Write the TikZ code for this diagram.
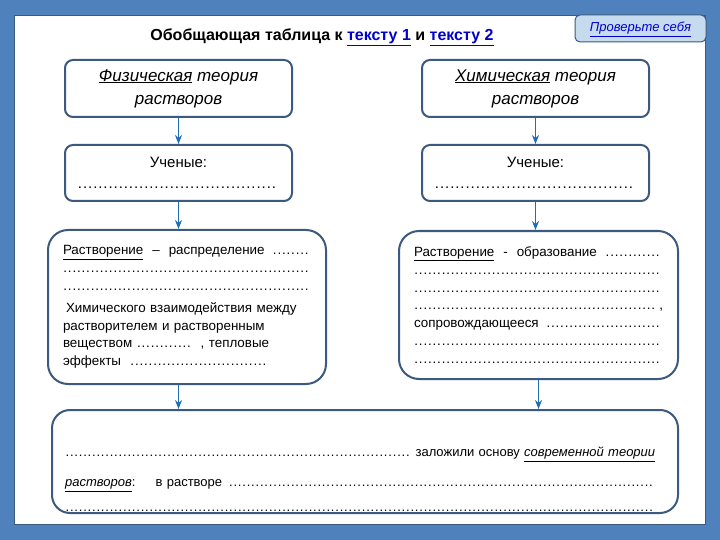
\documentclass[tikz,border=0pt]{standalone}
\usepackage{fontspec}
\setmainfont{Liberation Sans}
\usetikzlibrary{arrows.meta}

\definecolor{slidebg}{RGB}{79,129,189}
\definecolor{boxline}{RGB}{60,90,125}
\definecolor{arrowblue}{RGB}{31,110,180}
\definecolor{linkblue}{RGB}{0,0,204}
\definecolor{btnfill}{RGB}{198,220,238}

\newcommand\dfill{\leavevmode\leaders\hbox to .34em{\hss.\hss}\hfill\kern0pt}
\newcommand\dline{\mbox{}\dfill}
\newcommand\dts[1]{\hbox to #1{\dfill}}
\newcommand\ulit[1]{\underline{\textit{#1}}}

\begin{document}
\begin{tikzpicture}[x=1pt, y=-1pt,
  theory/.style={draw=boxline, line width=2pt, rounded corners=8pt, fill=white,
    minimum width=227pt, minimum height=57pt, align=center,
    font=\fontsize{17}{23}\selectfont\itshape},
  sci/.style={theory, minimum height=56pt, font=\fontsize{15}{21}\selectfont},
  defbox/.style={draw=boxline, line width=2pt, rounded corners=20pt, fill=white,
    inner xsep=15pt, align=left, font=\fontsize{13.4}{17.8}\selectfont},
  flow/.style={arrowblue, line width=1.5pt, -{Stealth[length=9pt,width=7pt]}}]

% -------- Background -----------
\fill[slidebg] (0,0) rectangle (720,540);
\draw[boxline, fill=white] (14,15) rectangle (705,524);

\node[font=\fontsize{16}{19}\selectfont\bfseries] (title) at (322,37)
  {Обобщающая таблица к \textcolor{linkblue}{\underline{тексту 1}} и \textcolor{linkblue}{\underline{тексту 2}}};
\node[draw=boxline, line width=1pt, fill=btnfill, rounded corners=5pt, minimum width=131pt,
  minimum height=27pt, text height=10pt, text depth=3pt, font=\fontsize{13}{15}\selectfont\itshape,
  text=linkblue] (check) at (640.5,28.5) {\underline{Проверьте себя}};

% -------- Two theories -----------
\node[theory] (phys) at (178.5,88.5) {\underline{Физическая} теория\\растворов};
\node[theory] (chem) at (535.5,88.5) {\underline{Химическая} теория\\растворов};
\node[sci] (sci1) at (178.5,173) {Ученые:\\\dts{202pt}};
\node[sci] (sci2) at (535.5,173) {Ученые:\\\dts{202pt}};

\node[defbox, minimum width=278pt, minimum height=154pt, text width=248pt] (defphys) at (187,307)
  {\underline{Растворение}\ \ –\ \ распределение \dfill\\
   \dline\\
   \dline\\[4pt]
   \hspace*{3pt}Химического взаимодействия между\\
   растворителем и растворенным\\
   веществом \dts{55pt}\ \ , тепловые\\
   эффекты\ \ \dts{138pt}};
\node[defbox, minimum width=279pt, minimum height=148pt, text width=249pt] (defchem) at (538.5,305)
  {\underline{Растворение}\ \ -\ \ образование \dfill\\
   \dline\\
   \dline\\
   \dline,\\
   сопровождающееся \dfill\\
   \dline\\
   \dline};

% -------- Modern theory -----------
\node[draw=boxline, line width=2pt, rounded corners=18pt, fill=white,
  minimum width=626pt, minimum height=103pt] (basis) at (365,461.5) {};
\node[anchor=north west, inner sep=0pt, text width=590pt, align=left,
  font=\fontsize{13}{25}\selectfont] (basistxt) at (65,447)
  {\dfill\ заложили основу \ulit{современной теории}\\[5pt]
   \ulit{растворов}:\hspace{20pt}в растворе \dfill\\
   \dline};

\draw[flow] (phys) -- (sci1);
\draw[flow] (chem) -- (sci2);
\draw[flow] (sci1.south) -- (sci1.south |- defphys.north);
\draw[flow] (sci2.south) -- (sci2.south |- defchem.north);
\draw[flow] (sci1.south |- defphys.south) -- (sci1.south |- basis.north);
\draw[flow] (defchem.south) -- (defchem.south |- basis.north);
\end{tikzpicture}
\end{document}
